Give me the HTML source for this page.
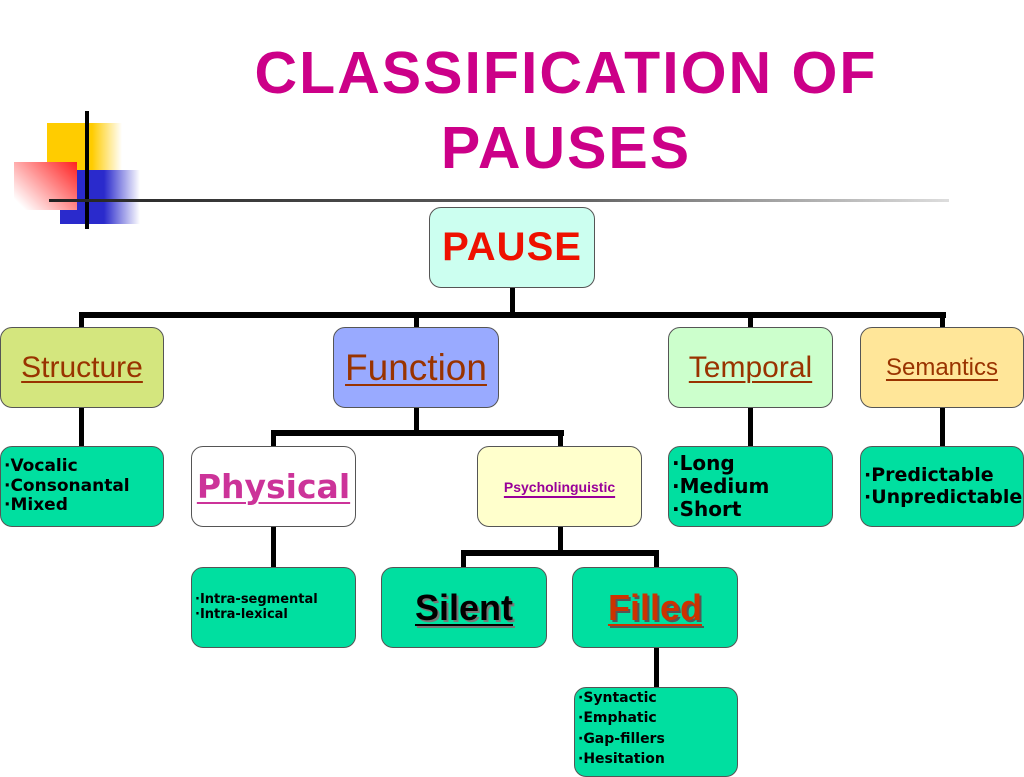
<!DOCTYPE html>
<html><head><meta charset="utf-8"><style>
body{margin:0;width:1024px;height:768px;background:#fff;position:relative;overflow:hidden;font-family:"Liberation Sans",sans-serif}
.b{position:absolute;border:1.5px solid #555;border-radius:12px;box-sizing:border-box;display:flex;align-items:center;justify-content:center;text-align:center}
.l{position:absolute;background:#000}
.t{position:absolute;left:0;width:1024px;text-align:center;color:#cc0088;font-weight:bold;font-size:59px;letter-spacing:2px;line-height:1}
.list{justify-content:flex-start;text-align:left;font-family:"DejaVu Sans",sans-serif;font-weight:bold;padding-left:3px;line-height:1.15}
u{text-decoration-thickness:2px;text-underline-offset:4px}
</style></head><body>
<div style="position:absolute;left:47px;top:123px;width:75px;height:48px;background:linear-gradient(90deg,#ffcc00 60%,#fff)"></div>
<div style="position:absolute;left:60px;top:170px;width:80px;height:54px;background:linear-gradient(90deg,#2a2acc 55%,#fff)"></div>
<div style="position:absolute;left:14px;top:162px;width:63px;height:48px;background:linear-gradient(45deg,#fff 10%,#ff2020)"></div>
<div class="l" style="left:85px;top:111px;width:4px;height:118px"></div>
<div style="position:absolute;left:49px;top:199px;width:900px;height:3px;background:linear-gradient(90deg,#222,#666 60%,#ddd)"></div>
<div class="t" style="left:54px;top:44px">CLASSIFICATION OF</div>
<div class="t" style="left:54px;top:119px">PAUSES</div>

<div class="l" style="left:510px;top:288px;width:5px;height:28px"></div>
<div class="l" style="left:79px;top:312px;width:867px;height:6px"></div>
<div class="l" style="left:79px;top:312px;width:5px;height:16px"></div>
<div class="l" style="left:414px;top:312px;width:5px;height:16px"></div>
<div class="l" style="left:748px;top:312px;width:5px;height:16px"></div>
<div class="l" style="left:940px;top:312px;width:5px;height:16px"></div>
<div class="l" style="left:79px;top:408px;width:5px;height:39px"></div>
<div class="l" style="left:748px;top:408px;width:5px;height:39px"></div>
<div class="l" style="left:940px;top:408px;width:5px;height:39px"></div>
<div class="l" style="left:414px;top:408px;width:5px;height:26px"></div>
<div class="l" style="left:271px;top:430px;width:293px;height:6px"></div>
<div class="l" style="left:271px;top:430px;width:5px;height:17px"></div>
<div class="l" style="left:558px;top:430px;width:5px;height:17px"></div>
<div class="l" style="left:271px;top:527px;width:5px;height:41px"></div>
<div class="l" style="left:558px;top:527px;width:5px;height:26px"></div>
<div class="l" style="left:461px;top:550px;width:198px;height:6px"></div>
<div class="l" style="left:461px;top:550px;width:5px;height:18px"></div>
<div class="l" style="left:654px;top:550px;width:5px;height:18px"></div>
<div class="l" style="left:654px;top:648px;width:5px;height:40px"></div>

<div class="b" style="left:429px;top:207px;width:166px;height:81px;background:#ccfff0;color:#ee1100;font-weight:bold;font-size:40px;letter-spacing:1px">PAUSE</div>
<div class="b" style="left:0;top:327px;width:164px;height:81px;background:#d4e67e;color:#993300;font-size:30px"><u>Structure</u></div>
<div class="b" style="left:333px;top:327px;width:166px;height:81px;background:#99aaff;color:#993300;font-size:37px"><u>Function</u></div>
<div class="b" style="left:668px;top:327px;width:165px;height:81px;background:#ccffcc;color:#993300;font-size:30px"><u>Temporal</u></div>
<div class="b" style="left:860px;top:327px;width:164px;height:81px;background:#ffe699;color:#993300;font-size:24px"><u>Semantics</u></div>

<div class="b list" style="left:0;top:446px;width:164px;height:81px;background:#00dfa0;font-size:17px">·Vocalic<br>·Consonantal<br>·Mixed</div>
<div class="b" style="left:191px;top:446px;width:165px;height:81px;background:#fff;color:#cc3399;font-weight:bold;font-size:33px;font-family:'DejaVu Sans',sans-serif"><u>Physical</u></div>
<div class="b" style="left:477px;top:446px;width:165px;height:81px;background:#ffffcc;color:#990099;font-weight:bold;font-size:14px"><u>Psycholinguistic</u></div>
<div class="b list" style="left:668px;top:446px;width:165px;height:81px;background:#00dfa0;font-size:20px">·Long<br>·Medium<br>·Short</div>
<div class="b list" style="left:860px;top:446px;width:164px;height:81px;background:#00dfa0;font-size:19px;white-space:nowrap">·Predictable<br>·Unpredictable</div>

<div class="b list" style="left:191px;top:567px;width:165px;height:81px;background:#00dfa0;font-size:13px">·Intra-segmental<br>·Intra-lexical</div>
<div class="b" style="left:381px;top:567px;width:166px;height:81px;background:#00dfa0;color:#000;font-weight:bold;font-size:36px;text-shadow:2px 2px 0 #777"><u>Silent</u></div>
<div class="b" style="left:572px;top:567px;width:166px;height:81px;background:#00dfa0;color:#cc3300;font-weight:bold;font-size:36px;text-shadow:2px 2px 0 #555"><u>Filled</u></div>
<div class="b list" style="left:574px;top:687px;width:164px;height:90px;background:#00dfa0;font-size:14px;align-items:flex-start;padding-top:0;line-height:1.45">·Syntactic<br>·Emphatic<br>·Gap-fillers<br>·Hesitation</div>
</body></html>
